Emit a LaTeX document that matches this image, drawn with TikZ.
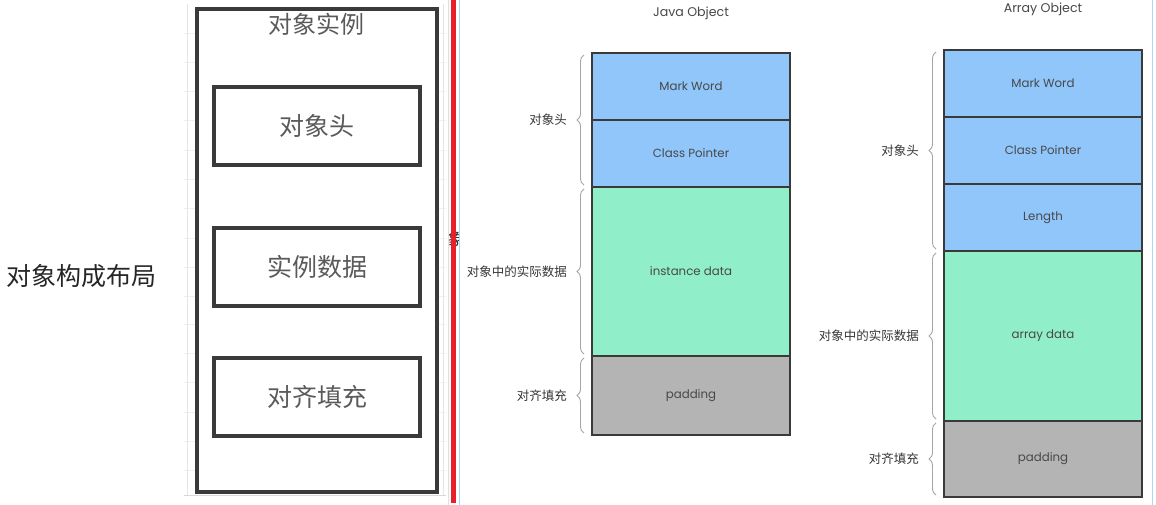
\documentclass[tikz,border=0pt]{standalone}
\usepackage{fontspec}
\setmainfont{Poppins}
\newfontfamily\cjk{Noto Sans CJK SC}
\usetikzlibrary{decorations.pathreplacing}
\definecolor{memblue}{RGB}{144,198,250}
\definecolor{memgreen}{RGB}{144,238,200}
\definecolor{memgray}{RGB}{180,180,180}
\definecolor{framegray}{RGB}{58,58,58}
\definecolor{txtgray}{RGB}{90,90,90}
\definecolor{redbar}{RGB}{232,32,42}
\definecolor{lightblue}{RGB}{176,212,248}
\tikzset{
  cell/.style={draw=framegray, line width=1.6pt, minimum width=198pt, inner sep=0pt, outer sep=0pt,
     font=\fontsize{11.8}{13}\selectfont, text=txtgray!80!black, anchor=north},
  lbl/.style={font=\cjk\fontsize{12.5}{14}\selectfont, text=txtgray!60!black, anchor=east, inner sep=0pt},
  brc/.style={draw=gray!70, line width=0.9pt, decorate, decoration={brace, amplitude=7pt}},
  ttl/.style={font=\fontsize{12.6}{14}\selectfont, text=txtgray!80!black},
  lbox/.style={draw=framegray, line width=3.5pt, minimum width=206pt, minimum height=78pt, inner sep=0pt,
     font=\cjk\fontsize{25}{28}\selectfont, text=txtgray},
}
\begin{document}
\begin{tikzpicture}[x=1pt,y=-1pt]
\useasboundingbox (0,0) rectangle (1156,505);
\fill[white] (0,0) rectangle (1156,505);
% faint grid in left panel
\foreach \yy in {33,62,91,120,150,179,208,238,267,296,324,353,382,412,441,470}
  \draw[gray!12, line width=0.6pt] (184,\yy) -- (446,\yy);
\draw[gray!20, line width=0.8pt] (187,4) -- (187,495);
\draw[gray!20, line width=0.8pt] (443,4) -- (443,495);
\draw[gray!30, line width=0.8pt] (184,495) -- (446,495);
% left label
\node[font=\cjk\fontsize{25}{28}\selectfont, text=black!85] (layout) at (81,276) {对象构成布局};
% left panel
\node[draw=framegray, fill=white, line width=3.5pt, minimum width=240pt, minimum height=483pt, inner sep=0pt] (inst) at (317,250.5) {};
\node[font=\cjk\fontsize{24}{28}\selectfont, text=txtgray] (insttitle) at (316,24) {对象实例};
\node[lbox] (lhead) at (317,126) {对象头};
\node[lbox] (ldata) at (317,267) {实例数据};
\node[lbox] (lpad) at (317,397) {对齐填充};
% partial char behind separator
\node[font=\cjk\fontsize{17}{19}\selectfont, text=black!80] (cut) at (456,239) {象};
\fill[white] (459,225) rectangle (466,255);
% separator
\draw[gray!25, line width=1pt] (448,0) -- (448,505);
\draw[redbar, line width=4.5pt] (453.5,0) -- (453.5,503);
\draw[lightblue, line width=1.2pt] (459.5,0) -- (459.5,505);
\draw[lightblue, line width=1.2pt] (1152.5,0) -- (1152.5,505);
% Java Object
\node[ttl] (jt) at (691,13) {Java Object};
\node[cell, fill=memblue, minimum height=67pt] (jmw) at (691,53) {Mark Word};
\node[cell, fill=memblue, minimum height=67pt] (jcp) at (jmw.south) {Class Pointer};
\node[cell, fill=memgreen, minimum height=169pt] (jid) at (jcp.south) {instance data};
\node[cell, fill=memgray, minimum height=79pt] (jpd) at (jid.south) {padding};
\draw[brc] ([xshift=-8pt,yshift=2pt]jcp.south west) -- ([xshift=-8pt,yshift=-2pt]jmw.north west);
\draw[brc] ([xshift=-8pt,yshift=2pt]jid.south west) -- ([xshift=-8pt,yshift=-2pt]jid.north west);
\draw[brc] ([xshift=-8pt,yshift=2pt]jpd.south west) -- ([xshift=-8pt,yshift=-2pt]jpd.north west);
\node[lbl] (jl1) at ([xshift=-25pt]jmw.south west) {对象头};
\node[lbl] (jl2) at ([xshift=-25pt]jid.west) {对象中的实际数据};
\node[lbl] (jl3) at ([xshift=-25pt]jpd.west) {对齐填充};
% Array Object
\node[ttl] (at) at (1043,9) {Array Object};
\node[cell, fill=memblue, minimum height=67pt] (amw) at (1043,50) {Mark Word};
\node[cell, fill=memblue, minimum height=67pt] (acp) at (amw.south) {Class Pointer};
\node[cell, fill=memblue, minimum height=67pt] (aln) at (acp.south) {Length};
\node[cell, fill=memgreen, minimum height=170pt] (aad) at (aln.south) {array data};
\node[cell, fill=memgray, minimum height=76pt] (apd) at (aad.south) {padding};
\draw[brc] ([xshift=-8pt,yshift=2pt]aln.south west) -- ([xshift=-8pt,yshift=-2pt]amw.north west);
\draw[brc] ([xshift=-8pt,yshift=2pt]aad.south west) -- ([xshift=-8pt,yshift=-2pt]aad.north west);
\draw[brc] ([xshift=-8pt,yshift=2pt]apd.south west) -- ([xshift=-8pt,yshift=-2pt]apd.north west);
\node[lbl] (al1) at ([xshift=-25pt]acp.west) {对象头};
\node[lbl] (al2) at ([xshift=-25pt]aad.west) {对象中的实际数据};
\node[lbl] (al3) at ([xshift=-25pt]apd.west) {对齐填充};
\end{tikzpicture}
\end{document}
